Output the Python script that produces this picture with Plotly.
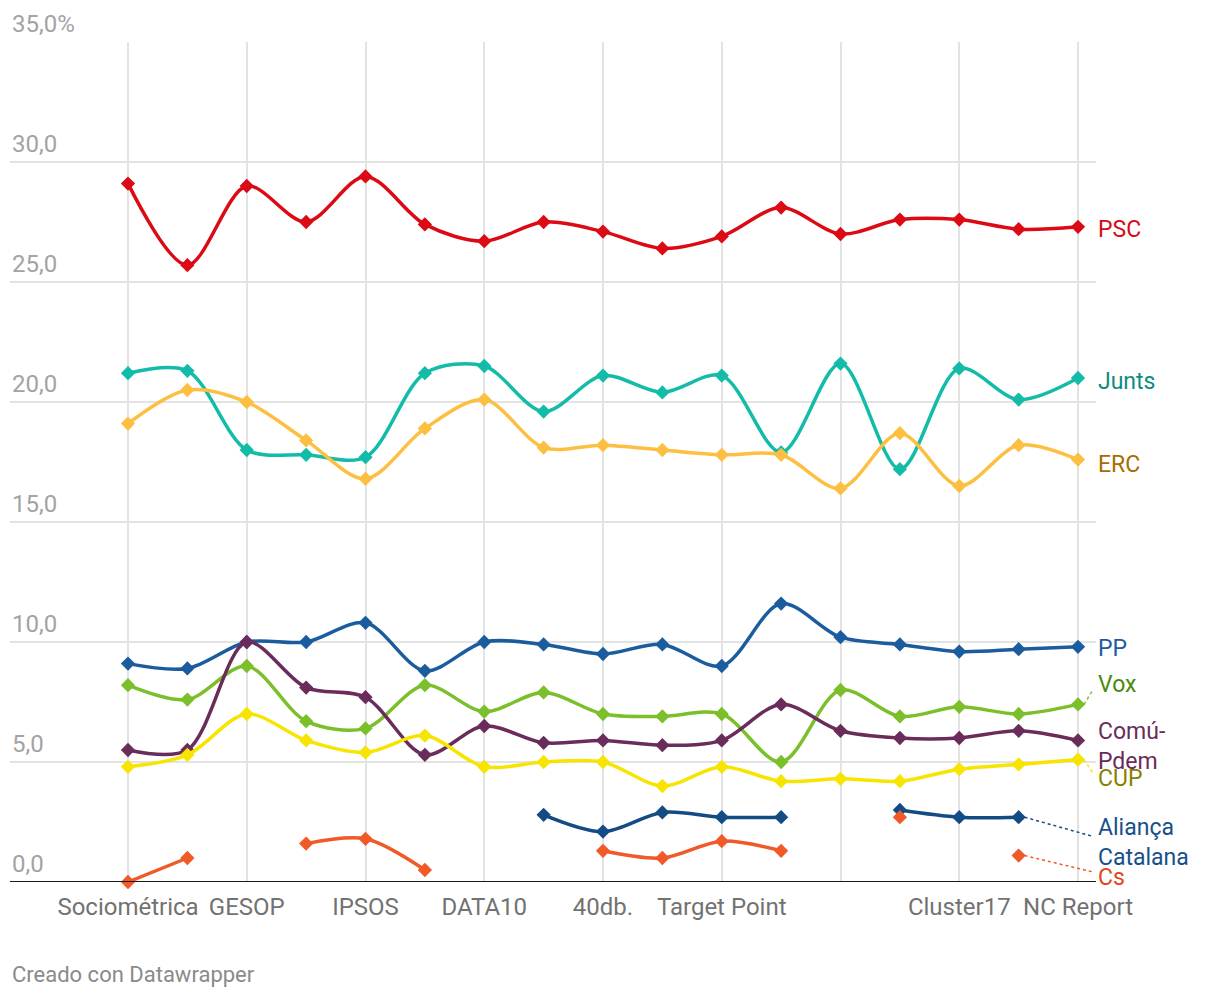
import plotly.graph_objects as go

# ---------------- data ----------------
pollsters = ["Sociométrica", "", "GESOP", "", "IPSOS", "", "DATA10", "", "40db.", "",
             "Target Point", "", "", "", "Cluster17", "", "NC Report"]

psc     = [29.1, 25.7, 29.0, 27.5, 29.4, 27.4, 26.7, 27.5, 27.1, 26.4, 26.9, 28.1, 27.0, 27.6, 27.6, 27.2, 27.3]
junts   = [21.2, 21.3, 18.0, 17.8, 17.7, 21.2, 21.5, 19.6, 21.1, 20.4, 21.1, 17.9, 21.6, 17.2, 21.4, 20.1, 21.0]
erc     = [19.1, 20.5, 20.0, 18.4, 16.8, 18.9, 20.1, 18.1, 18.2, 18.0, 17.8, 17.8, 16.4, 18.7, 16.5, 18.2, 17.6]
pp      = [9.1, 8.9, 10.0, 10.0, 10.8, 8.8, 10.0, 9.9, 9.5, 9.9, 9.0, 11.6, 10.2, 9.9, 9.6, 9.7, 9.8]
vox     = [8.2, 7.6, 9.0, 6.7, 6.4, 8.2, 7.1, 7.9, 7.0, 6.9, 7.0, 5.0, 8.0, 6.9, 7.3, 7.0, 7.4]
comu    = [5.5, 5.5, 10.0, 8.1, 7.7, 5.3, 6.5, 5.8, 5.9, 5.7, 5.9, 7.4, 6.3, 6.0, 6.0, 6.3, 5.9]
cup     = [4.8, 5.3, 7.0, 5.9, 5.4, 6.1, 4.8, 5.0, 5.0, 4.0, 4.8, 4.2, 4.3, 4.2, 4.7, 4.9, 5.1]
alianca = [None, None, None, None, None, None, None, 2.8, 2.1, 2.9, 2.7, 2.7, None, 3.0, 2.7, 2.7, None]
cs      = [0.0, 1.0, None, 1.6, 1.8, 0.5, None, None, 1.3, 1.0, 1.7, 1.3, None, 2.7, None, 1.1, None]

y_ticks = [0, 5, 10, 15, 20, 25, 30, 35]
y_tick_labels = ["0,0", "5,0", "10,0", "15,0", "20,0", "25,0", "30,0", "35,0%"]

series = [
    # name, values, line colour, label colour, label text, label y
    ("PSC", psc, "#dc0a14", "#d80a14", "PSC", 27.2),
    ("Junts", junts, "#12bca8", "#0e8c7e", "Junts", 20.85),
    ("ERC", erc, "#fdbf42", "#a86c00", "ERC", 17.4),
    ("PP", pp, "#1b5c9e", "#1d5ca3", "PP", 9.75),
    ("Vox", vox, "#7bbf2a", "#4a8a0f", "Vox", 8.25),
    ("Comú-Pdem", comu, "#6a2c5a", "#6a2c5a", "Comú-<br>Pdem", 5.65),
    ("CUP", cup, "#f7e400", "#8a8000", "CUP", 4.3),
    ("Aliança Catalana", alianca, "#134c84", "#17508a", "Aliança<br>Catalana", 1.65),
    ("Cs", cs, "#f05a28", "#e0461a", "Cs", 0.17),
]

x = list(range(len(pollsters)))
FONT = "Roboto, Arial, sans-serif"

fig = go.Figure()

for name, vals, col, lcol, ltxt, ly in series:
    fig.add_trace(go.Scatter(
        x=x, y=vals, mode="lines+markers", name=name,
        line=dict(color=col, width=3.5, shape="spline", smoothing=0.9),
        marker=dict(symbol="diamond", size=11, color=col),
        connectgaps=False, cliponaxis=False, hoverinfo="skip",
    ))

annotations = []
shapes = []
last_x = x[-1]
label_x = last_x + 0.3
for name, vals, col, lcol, ltxt, ly in series:
    idx = max(i for i, v in enumerate(vals) if v is not None)
    annotations.append(dict(
        x=label_x, y=ly, xref="x", yref="y", text=ltxt, showarrow=False,
        xanchor="left", yanchor="middle", align="left",
        font=dict(family=FONT, size=23, color=lcol),
    ))
    yv = vals[idx]
    if abs(yv - ly) > 0.6 or idx != last_x:
        shapes.append(dict(
            type="line", xref="x", yref="y",
            x0=idx + 0.1, y0=yv, x1=label_x - 0.05,
            y1=ly + (0.25 if ly < yv else -0.25 if ly > yv else 0),
            line=dict(color=col, width=1.5, dash="dot"), layer="above",
        ))

for v, t in zip(y_ticks, y_tick_labels):
    annotations.append(dict(
        x=0, y=v, xref="paper", yref="y", text=t, showarrow=False,
        xanchor="left", yanchor="middle", yshift=18,
        font=dict(family=FONT, size=24, color="#a3a3a3"),
    ))

annotations.append(dict(
    x=0, y=0, xref="paper", yref="paper", text="Creado con Datawrapper", showarrow=False,
    xanchor="left", yanchor="middle", yshift=-92,
    font=dict(family=FONT, size=22, color="#8a8a8a"),
))

# baseline
shapes.append(dict(type="line", xref="paper", yref="y", x0=0, x1=1, y0=0, y1=0,
                   line=dict(color="#1a1a1a", width=2), layer="above"))

tickvals = [i for i in x if i % 2 == 0]
ticktext = [pollsters[i] for i in tickvals]

px_per_unit = (1078 - 128) / 16
fig.update_layout(
    width=1204, height=982,
    margin=dict(l=2, r=116, t=34, b=108),
    paper_bgcolor="white", plot_bgcolor="white",
    showlegend=False,
    font=dict(family=FONT),
    xaxis=dict(
        range=[-(128 - 10) / px_per_unit, 16 + (1096 - 1078) / px_per_unit],
        tickmode="array", tickvals=tickvals, ticktext=ticktext,
        showgrid=True, gridcolor="#e3e3e3", gridwidth=1.5,
        zeroline=False, showline=False, ticks="",
        ticklabelstandoff=8,
        tickfont=dict(family=FONT, size=24, color="#727272"),
    ),
    yaxis=dict(
        range=[0, 35], tickmode="array", tickvals=y_ticks,
        showticklabels=False, showgrid=True, gridcolor="#e3e3e3", gridwidth=1.5,
        zeroline=False, showline=False, ticks="",
    ),
    annotations=annotations,
    shapes=shapes,
)

fig.write_html("out.html")
